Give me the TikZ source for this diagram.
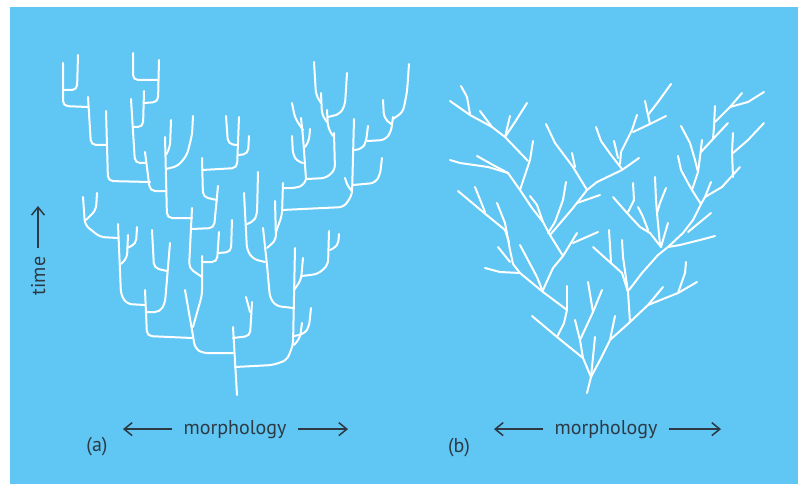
\documentclass[tikz,border=0pt]{standalone}
\usepackage{fontspec}
\setmainfont{PT Sans}
\usetikzlibrary{arrows.meta}

\definecolor{panelblue}{RGB}{96,198,243}
\definecolor{inkgrey}{RGB}{45,58,68}

\tikzset{
  stem/.style={white, line width=2pt, rounded corners=5pt, line cap=round},
  twig/.style={white, line width=2pt, line join=round, line cap=round},
  axislabel/.style={text=inkgrey, font=\fontsize{20}{24}\selectfont, inner sep=0pt},
  axisarrow/.style={draw=inkgrey, line width=1.5pt, -{Straight Barb[length=8pt,width=13pt]}}
}

\begin{document}
\begin{tikzpicture}[x=1pt,y=-1pt]
\useasboundingbox (0,0) rectangle (798,484);
\fill[white] (0,0) rectangle (798,484);
\fill[panelblue] (10,7) rectangle (798,484);

% (a) punctuated tree
\draw[stem] (63,63) -- (63,106) -- (88,107);
\draw[stem] (78,55) -- (77,90) -- (63,90);
\draw[stem] (88,97) -- (91,145) -- (107,145);
\draw[stem] (106,111) -- (108,181) -- (150,182);
\draw[stem] (145,152) -- (150,191) -- (166,191);
\draw[stem] (133,53) -- (133,80) -- (158,80);
\draw[stem] (159,60) -- (158,102) -- (144,103);
\draw[stem] (144,91) -- (143,127) -- (133,127);
\draw[stem] (131,99) -- (135,163) -- (145,163);
\draw[stem] (171,120) -- (170,147) -- (166,155);
\draw[stem] (193,116) -- (192,135) -- (187,155) -- (178,166) -- (166,169);
\draw[stem] (165,137) -- (167,218) -- (192,218);
\draw[stem] (202,158) -- (203,197) -- (217,200);
\draw[stem] (218,186) -- (214,228) -- (192,229);
\draw[stem] (202,170) -- (237,168) -- (239,117);
\draw[stem] (226,116) -- (228,144) -- (237,145);
\draw[stem] (249,136) -- (248,154) -- (238,155);
\draw[stem] (192,208) -- (189,268) -- (202,277);
\draw[stem] (202,256) -- (202,295) -- (193,327);
\draw[stem] (219,232) -- (217,262) -- (202,262);
\draw[stem] (232,220) -- (231,252) -- (218,253);
\draw[stem] (83,197) -- (85,225) -- (100,237) -- (118,238);
\draw[stem] (97,193) -- (96,210) -- (86,220);
\draw[stem] (118,224) -- (121,295) -- (127,304) -- (145,305);
\draw[stem] (128,235) -- (127,258) -- (121,264);
\draw[stem] (137,227) -- (136,244) -- (127,248);
\draw[stem] (152,230) -- (154,268) -- (167,271);
\draw[stem] (170,243) -- (165,303) -- (160,312) -- (146,312);
\draw[stem] (145,290) -- (147,336) -- (192,338);
\draw[stem] (185,290) -- (192,330) -- (195,348) -- (202,353) -- (233,353);
\draw[stem] (233,327) -- (237,395);
\draw[stem] (233,338) -- (250,336) -- (252,302);
\draw[stem] (246,297) -- (250,312);
\draw[stem] (244,193) -- (247,250) -- (253,259) -- (265,262);
\draw[stem] (258,172) -- (257,215) -- (253,222) -- (247,224);
\draw[stem] (263,228) -- (267,265) -- (270,298) -- (276,306) -- (293,308);
\draw[stem] (275,201) -- (276,240) -- (267,248);
\draw[stem] (283,183) -- (282,215) -- (276,232);
\draw[stem] (295,248) -- (293,345) -- (287,360) -- (273,365) -- (235,367);
\draw[stem] (303,258) -- (301,280) -- (294,290);
\draw[stem] (329,231) -- (328,265) -- (318,274) -- (302,276);
\draw[stem] (339,234) -- (338,246) -- (330,250);
\draw[stem] (311,308) -- (309,327) -- (304,334) -- (294,336);
\draw[stem] (302,323) -- (300,338) -- (294,345);
\draw[stem] (314,62) -- (316,95) -- (321,103);
\draw[stem] (321,93) -- (322,115) -- (327,122);
\draw[stem] (347,73) -- (345,105) -- (340,114) -- (328,117);
\draw[stem] (327,110) -- (328,128) -- (333,136);
\draw[stem] (334,133) -- (335,170) -- (326,178) -- (307,179);
\draw[stem] (292,103) -- (295,118) -- (303,130);
\draw[stem] (301,118) -- (303,137) -- (306,179);
\draw[stem] (310,129) -- (309,141) -- (305,147);
\draw[stem] (292,136) -- (293,155) -- (298,162) -- (303,163);
\draw[stem] (306,179) -- (304,185) -- (296,188) -- (283,188);
\draw[stem] (354,119) -- (352,195) -- (344,207) -- (282,210);
\draw[stem] (368,126) -- (366,142) -- (362,149) -- (354,150);
\draw[stem] (383,100) -- (384,118) -- (391,124);
\draw[stem] (409,64) -- (407,92) -- (403,112) -- (393,119);
\draw[stem] (393,117) -- (391,132) -- (385,140) -- (367,141);
\draw[stem] (382,158) -- (380,175) -- (375,183) -- (353,185);
\draw[stem] (345,178) -- (348,187) -- (352,191);

% (b) gradual tree
\draw[twig] (587,393) -- (591,377) -- (583,358) -- (557,337) -- (532,316);
\draw[twig] (583,358) -- (580,340) -- (575,320);
\draw[twig] (580,340) -- (593,312) -- (602,290);
\draw[twig] (593,312) -- (588,282);
\draw[twig] (591,377) -- (595,337);
\draw[twig] (591,377) -- (600,360) -- (610,340) -- (630,322) -- (648,305) -- (663,287);
\draw[twig] (610,340) -- (615,316);
\draw[twig] (630,322) -- (628,292) -- (626,278) -- (623,257) -- (622,240);
\draw[twig] (628,292) -- (622,273) -- (593,247);
\draw[twig] (611,262) -- (609,230);
\draw[twig] (629,290) -- (642,273) -- (658,255) -- (668,247) -- (683,233) -- (693,220) -- (701,204);
\draw[twig] (648,305) -- (678,293) -- (697,282);
\draw[twig] (678,293) -- (685,273) -- (686,262);
\draw[twig] (668,247) -- (680,245) -- (700,240) -- (715,236);
\draw[twig] (688,232) -- (711,213);
\draw[twig] (701,204) -- (697,198) -- (692,190);
\draw[twig] (701,204) -- (705,197) -- (722,187) -- (740,167);
\draw[twig] (705,197) -- (711,182);
\draw[twig] (733,177) -- (732,152) -- (733,133);
\draw[twig] (733,153) -- (748,140) -- (764,123);
\draw[twig] (692,190) -- (698,172) -- (700,157) -- (702,140);
\draw[twig] (698,172) -- (695,160) -- (690,143) -- (681,126);
\draw[twig] (692,190) -- (688,183) -- (681,170) -- (678,156);
\draw[twig] (701,152) -- (713,139) -- (728,123);
\draw[twig] (713,139) -- (714,127) -- (715,106);
\draw[twig] (715,122) -- (730,107) -- (742,93);
\draw[twig] (730,107) -- (748,102) -- (764,92);
\draw[twig] (661,247) -- (650,233) -- (640,227) -- (627,213) -- (613,197);
\draw[twig] (628,212) -- (634,200) -- (633,183);
\draw[twig] (660,245) -- (657,213) -- (656,200) -- (655,177);
\draw[twig] (657,213) -- (660,203) -- (666,188);
\draw[twig] (668,223) -- (663,240) -- (661,247);
\draw[twig] (638,207) -- (643,217) -- (648,230);
\draw[twig] (450,101) -- (470,115) -- (492,127) -- (505,137) -- (528,161);
\draw[twig] (461,86) -- (467,97) -- (470,114);
\draw[twig] (480,111) -- (492,127);
\draw[twig] (510,116) -- (505,137);
\draw[twig] (527,103) -- (515,122) -- (505,137);
\draw[twig] (533,141) -- (530,160) -- (520,190) -- (532,208) -- (543,222) -- (550,235) -- (563,256);
\draw[twig] (543,290) -- (553,268) -- (563,256) -- (577,233);
\draw[twig] (573,243) -- (598,232);
\draw[twig] (550,235) -- (573,208) -- (587,190) -- (573,167) -- (555,143) -- (546,124);
\draw[twig] (577,203) -- (600,195);
\draw[twig] (572,153) -- (575,167);
\draw[twig] (587,190) -- (597,182) -- (622,170) -- (639,158);
\draw[twig] (596,127) -- (601,141) -- (611,155) -- (622,169);
\draw[twig] (614,141) -- (618,158);
\draw[twig] (637,115) -- (632,130) -- (621,152) -- (620,164);
\draw[twig] (633,132) -- (650,124) -- (666,116);
\draw[twig] (645,101) -- (648,115) -- (650,124);
\draw[twig] (671,84) -- (658,102) -- (648,115);
\draw[twig] (530,196) -- (537,205) -- (543,222);
\draw[twig] (566,182) -- (563,200) -- (555,222) -- (548,233);
\draw[twig] (450,160) -- (460,163) -- (488,167) -- (508,173) -- (520,190);
\draw[twig] (477,156) -- (493,165) -- (508,173);
\draw[twig] (458,191) -- (483,212) -- (505,230) -- (509,242);
\draw[twig] (475,187) -- (485,212);
\draw[twig] (497,203) -- (505,223) -- (510,250) -- (513,264) -- (520,273) -- (543,292) -- (567,310) -- (564,323) -- (557,337);
\draw[twig] (498,247) -- (510,262);
\draw[twig] (485,268) -- (500,272) -- (520,273);
\draw[twig] (520,245) -- (537,277) -- (543,292);
\draw[twig] (567,310) -- (567,286);

% labels and axes
\node[axislabel, anchor=base] (morphA) at (235,434) {morphology};
\node[axislabel, anchor=base] (morphB) at (606,434) {morphology};
\node[axislabel] (labelA) at (97,447) {(a)};
\node[axislabel] (labelB) at (459,448) {(b)};
\node[axislabel, rotate=90, anchor=base] (timeLbl) at (45,276) {time};

\coordinate (mAleft) at (123,428);
\coordinate (mAright) at (348,428);
\coordinate (mBleft) at (494,428);
\coordinate (mBright) at (721,428);
\coordinate (timeTail) at (38,248);
\coordinate (timeTip) at (38,206);

\draw[axisarrow] ([xshift=-11pt]morphA.west) -- (mAleft |- morphA.west);
\draw[axisarrow] ([xshift=11pt]morphA.east) -- (mAright |- morphA.east);
\draw[axisarrow] ([xshift=-11pt]morphB.west) -- (mBleft |- morphB.west);
\draw[axisarrow] ([xshift=11pt]morphB.east) -- (mBright |- morphB.east);
\draw[axisarrow] (timeTail) -- (timeTip);
\end{tikzpicture}
\end{document}
